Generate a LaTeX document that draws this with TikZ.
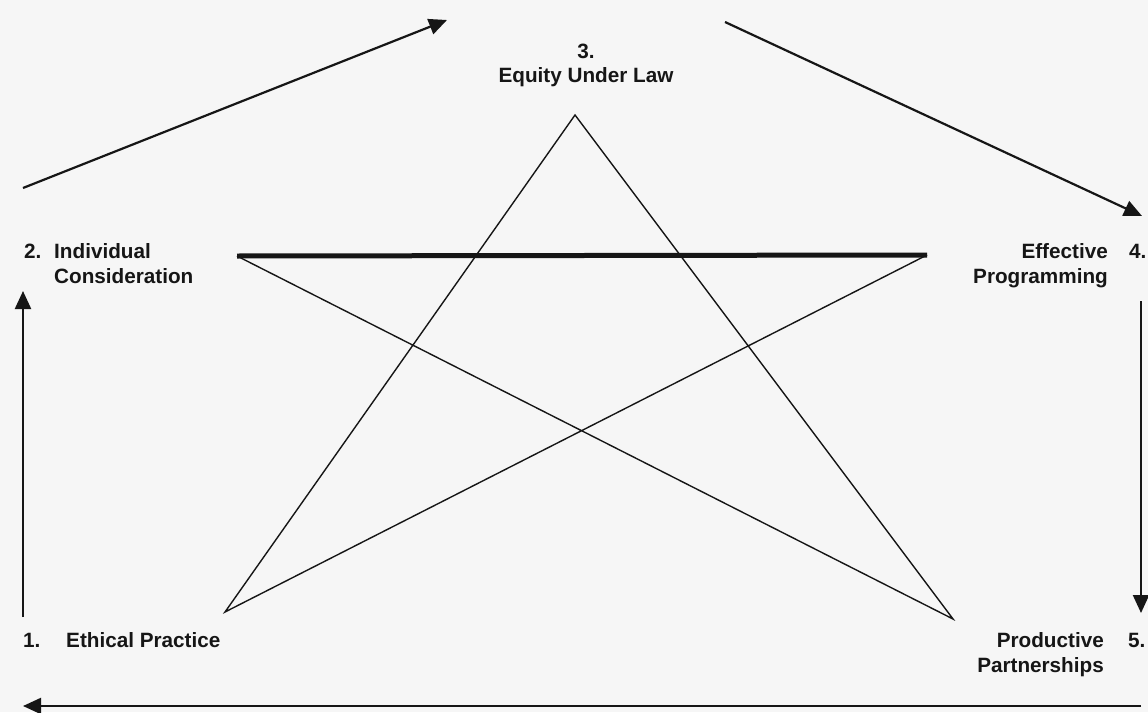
\documentclass[tikz,border=0pt]{standalone}
\usepackage{fontspec}
\setmainfont{Liberation Sans}
\usetikzlibrary{arrows.meta,positioning}
\definecolor{scangray}{RGB}{246,246,246}
\definecolor{inkblack}{RGB}{22,22,22}

\begin{document}
\begin{tikzpicture}[
        x=1pt, y=-1pt,
        lbl/.style={font=\bfseries\fontsize{20.7}{25}\selectfont, text=inkblack, inner sep=0pt},
        edge/.style={draw=inkblack, line width=1.4pt},
        beam/.style={draw=inkblack, line width=5pt},
        flow/.style={draw=inkblack, line width=2.2pt, -{Triangle[length=18pt,width=16pt]}}
    ]
        \fill[scangray] (0,0) rectangle (1148,712);
        \useasboundingbox (0,0) rectangle (1148,712);

        \node[lbl, anchor=base] (equity) at (586,82) {Equity Under Law};
        \node[lbl, above=7.8pt of equity] (n3) {3.};
        \node[lbl, anchor=base west] (n2) at (24,258) {2.};
        \node[lbl, align=left, anchor=north west] (indiv) at (54,243.2) {Individual\\Consideration};
        \node[lbl, align=right, anchor=north east] (prog) at (1108,243.2) {Effective\\Programming};
        \node[lbl, anchor=base west] (n4) at (1129,258) {4.};
        \node[lbl, anchor=base west] (n1) at (23,647) {1.};
        \node[lbl, anchor=base west] (ethic) at (66,647) {Ethical Practice};
        \node[lbl, align=right, anchor=north east] (partner) at (1104,632.2) {Productive\\Partnerships};
        \node[lbl, anchor=base west] (n5) at (1128,647) {5.};

        \coordinate (apex) at (575,115);
        \coordinate (wl) at (237,256);
        \coordinate (wr) at (927,255);
        \coordinate (fl) at (225,612);
        \coordinate (fr) at (953,619);

        \draw[edge] (wl) -- (fr) -- (apex) -- (fl) -- (wr);
        \draw[beam] (wl) -- (wr);

        \coordinate (a1s) at (23,188);
        \coordinate (a1e) at (447,20);
        \coordinate (a2s) at (725,22);
        \coordinate (a2e) at (1142,216);
        \coordinate (a3s) at (1141,301);
        \coordinate (a3e) at (1141,613);
        \coordinate (a4s) at (1141,706);
        \coordinate (a4e) at (23,706);
        \coordinate (a5s) at (23,617);
        \coordinate (a5e) at (23,291);

        \draw[flow] (a1s) -- (a1e);
        \draw[flow] (a2s) -- (a2e);
        \draw[flow] (a3s) -- (a3e);
        \draw[flow] (a4s) -- (a4e);
        \draw[flow] (a5s) -- (a5e);
    \end{tikzpicture}
\end{document}
